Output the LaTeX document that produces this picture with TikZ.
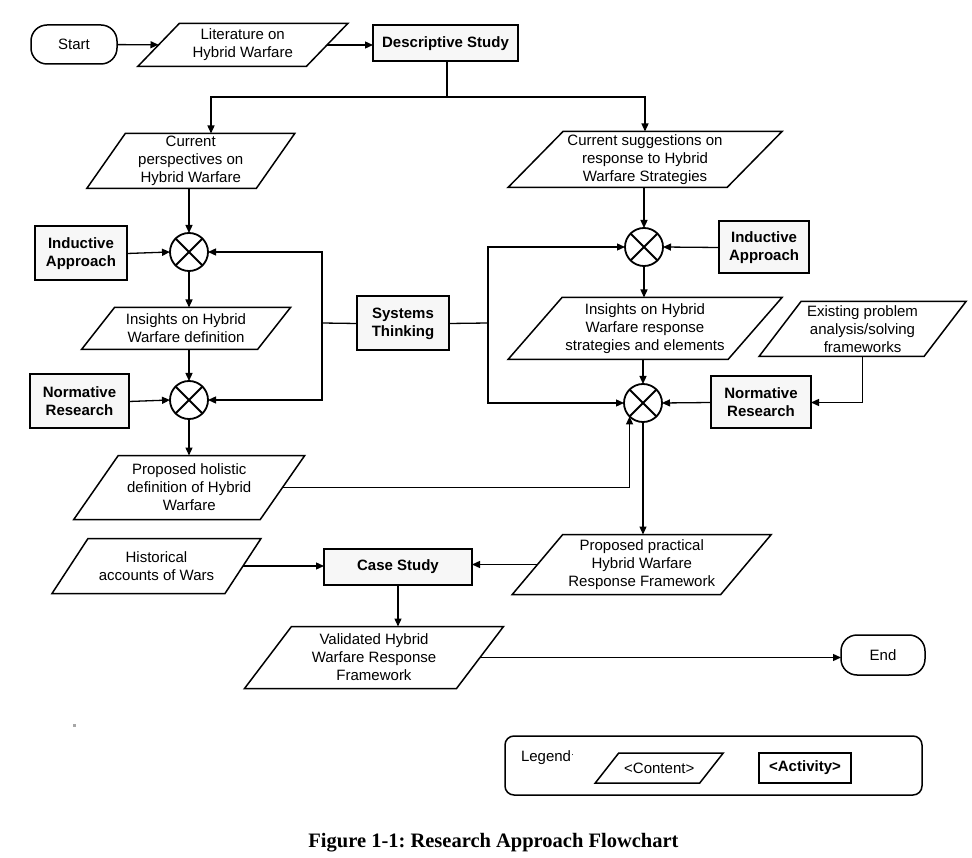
\documentclass[tikz,border=0pt]{standalone}
\usepackage{fontspec}
\setmainfont{Liberation Sans}
\newfontfamily\capfont{Liberation Serif}
\usetikzlibrary{calc,arrows.meta}
\frenchspacing
\newcommand\mypara[2]{\draw[paraline] ($(#1.north west)+(#2/2,0)$) -- ($(#1.north east)+(#2/2,0)$) -- ($(#1.south east)-(#2/2,0)$) -- ($(#1.south west)-(#2/2,0)$) -- cycle;}
\tikzset{
  txt/.style={font=\fontsize{15}{18}\selectfont, align=center, inner sep=0pt, outer sep=0pt},
  content/.style={txt, minimum width=#1},
  parah/.style={minimum height=#1},
  paraline/.style={line width=1.5pt, line join=miter},
  activity/.style={txt, font=\bfseries\fontsize{15}{18}\selectfont, draw, line width=2pt, fill=gray!6, minimum width=#1},
  term/.style={txt, draw, line width=1.5pt, rounded corners=16pt, minimum width=#1},
  xcirc/.style={circle, draw, line width=1.8pt, minimum size=38pt, inner sep=0pt, outer sep=0pt,
    path picture={\draw[line width=1.8pt] (path picture bounding box.north west) -- (path picture bounding box.south east)
      (path picture bounding box.north east) -- (path picture bounding box.south west);}},
  arr/.style={line width=1.3pt, -{Triangle[length=8pt,width=7pt]}},
  ln/.style={line width=1.3pt},
}
\begin{document}
\begin{tikzpicture}[x=1pt,y=-1pt]
\useasboundingbox[fill=white] (0,0) rectangle (972,858);

% terminals
\node[term=86pt, minimum height=39pt] (start) at (74,44.5) {Start};
\node[term=84pt, minimum height=40pt] (end) at (883,655) {End};

% content (parallelograms)
\node[content=168.5pt, parah=43pt] (lit) at (242.75,45) {Literature on\\Hybrid Warfare}; \mypara{lit}{41.5}
\node[content=169.5pt, parah=55pt] (cp) at (190.75,161) {Current\\perspectives on\\Hybrid Warfare}; \mypara{cp}{38.5}
\node[content=176pt, parah=42pt] (ihd) at (186,328.5) {Insights on Hybrid\\Warfare definition}; \mypara{ihd}{33}
\node[content=186.5pt, parah=64pt] (phd) at (189.25,487.5) {Proposed holistic\\definition of Hybrid\\Warfare}; \mypara{phd}{44.5}
\node[content=219pt, parah=56pt] (cs) at (645,159.5) {Current suggestions on\\response to Hybrid\\Warfare Strategies}; \mypara{cs}{55}
\node[content=220pt, parah=62pt] (ihr) at (645,328.5) {Insights on Hybrid\\Warfare response\\strategies and elements}; \mypara{ihr}{54}
\node[content=165pt, parah=55pt] (ex) at (862.5,329) {Existing problem\\analysis/solving\\frameworks}; \mypara{ex}{42}
\node[content=208.5pt, parah=60pt] (pp) at (641.75,564.5) {Proposed practical\\Hybrid Warfare\\Response Framework}; \mypara{pp}{50.5}
\node[content=173pt, parah=55pt] (hist) at (156.5,566) {Historical\\accounts of Wars}; \mypara{hist}{36}
\node[content=212pt, parah=62pt] (val) at (374,657.5) {Validated Hybrid\\Warfare Response\\Framework}; \mypara{val}{47}

% activities
\node[activity=145pt, minimum height=36pt] (ds) at (445.5,43.5) {Descriptive Study};
\node[activity=92pt, minimum height=54pt] (ia1) at (81,253.5) {Inductive\\Approach};
\node[activity=99pt, minimum height=54pt] (nr1) at (79.5,401.5) {Normative\\Research};
\node[activity=92pt, minimum height=54pt] (st) at (403,323.5) {Systems\\Thinking};
\node[activity=90pt, minimum height=52pt] (ia2) at (764,247.5) {Inductive\\Approach};
\node[activity=100pt, minimum height=52pt] (nr2) at (761,402.5) {Normative\\Research};
\node[activity=148pt, minimum height=36pt] (case) at (398,566.5) {Case Study};

% combination circles
\node[xcirc] (c1) at (189,252) {};
\node[xcirc] (c2) at (189,400) {};
\node[xcirc] (c3) at (644,247) {};
\node[xcirc] (c4) at (643,403) {};

% helper coordinates
\coordinate (j1) at (447,97);
\coordinate (cptop) at ($(cp.north)+(20.25,0)$);
\coordinate (stL) at (322,323);
\coordinate (stR) at (488,323);

% connectors
\draw[arr] (start) -- (lit);
\draw[arr] (lit.east) -- (lit.east -| ds.west);
\draw[ln] (ds.south -| j1) -- (j1);
\draw[arr] (j1) -| (cptop);
\draw[arr] (j1) -| (cs.north);
\draw[arr] (cp.south -| c1.north) -- (c1.north);
\draw[arr] (ia1.east) -- (c1.west);
\draw[arr] (c1.south) -- (c1.south |- ihd.north);
\draw[arr] (ihd.south -| c2.north) -- (c2.north);
\draw[arr] (nr1.east) -- (c2.west);
\draw[arr] (c2.south) -- (c2.south |- phd.north);
\draw[ln] (st.west) -- (stL);
\draw[arr] (stL) |- (c1.east);
\draw[arr] (stL) |- (c2.east);
\draw[ln] (st.east) -- (stR);
\draw[arr] (stR) |- (c3.west);
\draw[arr] (stR) |- (c4.west);
\draw[arr] (cs.south -| c3.north) -- (c3.north);
\draw[arr] (ia2.west) -- (c3.east);
\draw[arr] (c3.south) -- (c3.south |- ihr.north);
\draw[arr] (ihr.south -| c4.north) -- (c4.north);
\draw[arr] (ex.south) |- (nr2.east);
\draw[arr] (nr2.west) -- (c4.east);
\draw[arr] (phd.east) -| (c4.south west);
\draw[arr] (c4.south) -- (c4.south |- pp.north);
\draw[arr] (pp.west) -- (pp.west -| case.east);
\draw[arr] (hist.east) -- (hist.east -| case.west);
\draw[arr] (case.south) -- (case.south |- val.north);
\draw[arr] (val.east) -- (val.east -| end.west);

% stray mark
\fill[gray!70] (73,724) rectangle (75.5,726.5);

% legend
\node[draw, line width=1.5pt, rounded corners=9pt, minimum width=417pt, minimum height=59pt, inner sep=0pt] (legend) at (713.5,765.5) {};
\node[txt, anchor=west] (legtxt) at (521,758) {Legend\raisebox{4pt}{\fontsize{9}{9}\selectfont ·}};
\node[content=104.5pt, parah=30pt] (lcont) at (659.25,768) {<Content>}; \mypara{lcont}{23.5}
\node[activity=92pt, minimum height=30pt, fill=none] (lact) at (805,767.5) {<Activity>};

% caption
\node[font=\capfont\bfseries\fontsize{20.5}{24}\selectfont, inner sep=0pt] (cap) at (493.5,843) {Figure 1-1: Research Approach Flowchart};
\end{tikzpicture}
\end{document}
